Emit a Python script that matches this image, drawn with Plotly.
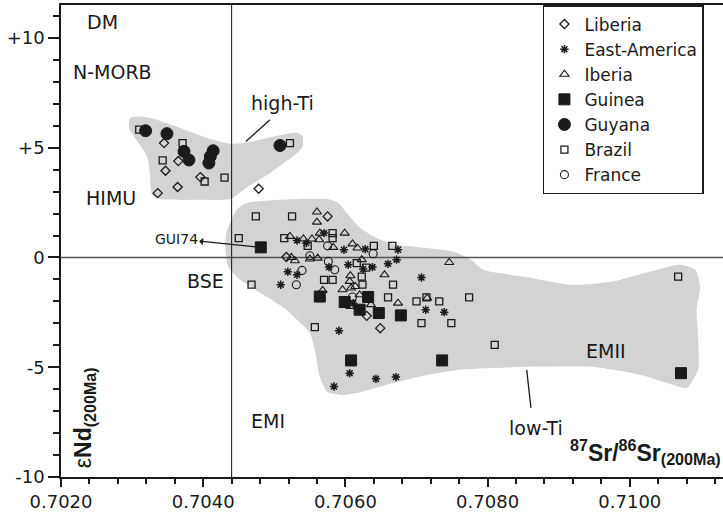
import plotly.graph_objects as go

# ---------------- data ----------------
liberia_x = [0.70345, 0.70365, 0.70347, 0.70396, 0.70364, 0.70336, 0.70478,
             0.70575, 0.70517, 0.70630, 0.70649]
liberia_y = [5.21, 4.39, 3.95, 3.66, 3.21, 2.93, 3.13,
             1.87, 0.02, -2.66, -3.22]

eastam_x = [0.70532, 0.70545, 0.70570, 0.70598, 0.70628, 0.70674, 0.70672, 0.70660,
            0.70638, 0.70604, 0.70577, 0.70625, 0.70519, 0.70532, 0.70509, 0.70707,
            0.70713, 0.70739, 0.70591, 0.70606, 0.70643, 0.70671, 0.70584, 0.70611]
eastam_y = [0.77, 0.66, 1.11, 0.35, 0.38, 0.35, -0.10, -0.29,
            -0.44, -0.33, -0.44, -0.53, -0.65, -0.79, -1.24, -0.91,
            -2.38, -2.49, -3.34, -5.27, -5.53, -5.45, -5.88, -2.08]

iberia_x = [0.70560, 0.70560, 0.70599, 0.70522, 0.70541, 0.70553, 0.70564, 0.70563,
            0.70583, 0.70610, 0.70617, 0.70524, 0.70529, 0.70550, 0.70561, 0.70623,
            0.70607, 0.70655, 0.70606, 0.70596, 0.70608, 0.70614, 0.70568, 0.70620,
            0.70636, 0.70607, 0.70674, 0.70715, 0.70746]
iberia_y = [2.07, 1.61, 1.11, 0.96, 0.84, 0.84, 1.11, 0.81,
            0.46, 0.62, 0.43, 0.00, -0.15, -0.07, -0.03, -0.10,
            -0.83, -0.79, -1.09, -1.47, -1.39, -1.32, -1.50, -1.70,
            -2.15, -2.23, -2.08, -1.85, -0.23]

guinea_x = [0.70481, 0.70564, 0.70599, 0.70632, 0.70620, 0.70647, 0.70678,
            0.70608, 0.70736, 0.71072]
guinea_y = [0.46, -1.78, -2.03, -1.80, -2.38, -2.53, -2.64,
            -4.69, -4.69, -5.27]

guyana_x = [0.70319, 0.70349, 0.70373, 0.70380, 0.70414, 0.70410, 0.70408, 0.70508]
guyana_y = [5.77, 5.64, 4.83, 4.44, 4.86, 4.60, 4.30, 5.10]

brazil_x = [0.70310, 0.70371, 0.70343, 0.70402, 0.70430, 0.70522,
            0.70474, 0.70525, 0.70450, 0.70514, 0.70547, 0.70582, 0.70582, 0.70640,
            0.70666, 0.70616, 0.70629, 0.70570, 0.70582, 0.70623, 0.70624, 0.70667,
            0.70468, 0.70660, 0.70700, 0.70714, 0.70732, 0.70707, 0.70749, 0.70557,
            0.70774, 0.70810, 0.71068]
brazil_y = [5.82, 5.21, 4.42, 3.46, 3.64, 5.21,
            1.87, 1.87, 0.88, 0.88, 0.53, 1.11, 0.88, 0.53,
            0.53, -0.26, -0.46, -1.02, -1.02, -0.87, -1.24, -1.24,
            -1.24, -1.82, -2.00, -1.82, -2.00, -2.99, -2.99, -3.17,
            -1.82, -3.98, -0.87]

france_x = [0.70575, 0.70550, 0.70576, 0.70585, 0.70539, 0.70531, 0.70639, 0.70610]
france_y = [0.53, 0.08, -0.18, -0.56, -0.59, -1.24, 0.17, -1.80]

# outlines of the shaded fields
highti_x = [0.70297, 0.70311, 0.70325, 0.70367, 0.70405, 0.70438, 0.70461, 0.70498,
            0.70532, 0.70540, 0.70540, 0.70532, 0.70494, 0.70461, 0.70438, 0.70396,
            0.70339, 0.70328, 0.70325, 0.70321, 0.70306, 0.70296]
highti_y = [6.35, 6.42, 6.36, 5.91, 5.45, 5.18, 5.24, 5.50,
            5.69, 5.51, 5.06, 4.76, 3.85, 3.18, 2.66, 2.63,
            2.66, 2.86, 3.85, 4.60, 5.36, 5.90]

lowti_x = [0.70431, 0.70433, 0.70447, 0.70461, 0.70494, 0.70541, 0.70574, 0.70590,
           0.70602, 0.70621, 0.70644, 0.70672, 0.70714, 0.70751, 0.70775, 0.70794,
           0.70850, 0.70916, 0.70977, 0.71029, 0.71071, 0.71092, 0.71099, 0.71094,
           0.71096, 0.71096, 0.71080, 0.71061, 0.71014, 0.70944, 0.70874, 0.70803,
           0.70761, 0.70705, 0.70667, 0.70625, 0.70597, 0.70574, 0.70564, 0.70557,
           0.70550, 0.70532, 0.70517, 0.70489, 0.70452, 0.70435]
lowti_y = [0.50, 1.18, 2.17, 2.48, 2.60, 2.66, 2.66, 2.49,
           2.02, 1.34, 0.88, 0.58, 0.43, 0.27, -0.07, -0.56,
           -0.87, -1.24, -1.09, -0.64, -0.33, -0.56, -1.32, -2.38,
           -3.60, -5.12, -5.95, -5.80, -5.34, -4.97, -4.97, -5.04,
           -5.12, -5.42, -5.72, -6.10, -6.26, -6.10, -5.42, -4.21,
           -3.44, -2.84, -2.38, -1.78, -1.02, -0.41]

# reference values (bulk silicate earth)
bse_sr = 0.7044
bse_nd = 0.0

# field labels
field_labels = ["DM", "N-MORB", "HIMU", "BSE", "EMI", "EMII", "high-Ti", "low-Ti"]
field_x = [0.70259, 0.70272, 0.70270, 0.70403, 0.70491, 0.70967, 0.70512, 0.70868]
field_y = [10.74, 8.47, 2.71, -1.06, -7.45, -4.28, 7.05, -7.75]

# pointer lines for high-Ti / low-Ti
highti_ptr_x = [0.70494, 0.70460]
highti_ptr_y = [6.27, 5.28]
lowti_ptr_x = [0.70855, 0.70861]
lowti_ptr_y = [-5.12, -6.85]

# GUI74 sample callout
gui74_x, gui74_y = 0.70481, 0.46
gui74_label_x, gui74_label_y = 0.70362, 0.85

x_range = [0.7020, 0.711311]
y_range = [-10, 11.5]
y_tickvals = [-10, -5, 0, 5, 10]
y_ticktext = ["-10", "-5", "0", "+5", "+10"]

FONT = "DejaVu Sans, Liberation Sans, Arial, sans-serif"
TFONT = "Liberation Sans, Arial, Helvetica, sans-serif"
INK = "#1a1a1a"

fig = go.Figure()

# shaded fields
for fx, fy in [(highti_x, highti_y), (lowti_x, lowti_y)]:
    fig.add_trace(go.Scatter(x=fx + fx[:1], y=fy + fy[:1], mode="lines", fill="toself",
                             fillcolor="#d3d3d3",
                             line=dict(color="#d3d3d3", width=0, shape="spline", smoothing=0.6),
                             hoverinfo="skip", showlegend=False))

# reference lines
fig.add_trace(go.Scatter(x=[bse_sr, bse_sr], y=y_range, mode="lines",
                         line=dict(color="#111111", width=1), showlegend=False, hoverinfo="skip"))
fig.add_trace(go.Scatter(x=x_range, y=[bse_nd, bse_nd], mode="lines",
                         line=dict(color="#555555", width=1.5), showlegend=False, hoverinfo="skip"))

# pointer lines
for px, py in [(highti_ptr_x, highti_ptr_y), (lowti_ptr_x, lowti_ptr_y)]:
    fig.add_trace(go.Scatter(x=px, y=py, mode="lines", line=dict(color=INK, width=1.3),
                             showlegend=False, hoverinfo="skip"))

series = [
    ("Liberia", liberia_x, liberia_y, "diamond-open", 7, 1.3),
    ("East-America", eastam_x, eastam_y, "asterisk-open", 7, 1.5),
    ("Iberia", iberia_x, iberia_y, "triangle-up-open", 8, 1.1),
    ("Guinea", guinea_x, guinea_y, "square", 11, 1),
    ("Guyana", guyana_x, guyana_y, "circle", 12, 1),
    ("Brazil", brazil_x, brazil_y, "square-open", 7, 1.3),
    ("France", france_x, france_y, "circle-open", 8, 1.1),
]
for name, sx, sy, sym, size, lw in series:
    fig.add_trace(go.Scatter(
        x=sx, y=sy, mode="markers", name=name,
        marker=dict(symbol=sym, size=size, color=INK, line=dict(color=INK, width=lw)),
    ))

annotations = []
for t, ax_, ay_ in zip(field_labels, field_x, field_y):
    annotations.append(dict(x=ax_, y=ay_, xref="x", yref="y", text=t, showarrow=False,
                            font=dict(family=FONT, size=19, color=INK)))

annotations.append(dict(x=gui74_x, y=gui74_y, xref="x", yref="y",
                        ax=gui74_label_x, ay=gui74_label_y, axref="x", ayref="y",
                        text="GUI74", showarrow=True, arrowside="start", arrowhead=2,
                        arrowsize=1, arrowwidth=1.3, arrowcolor=INK, standoff=5,
                        font=dict(family=FONT, size=14, color=INK)))

# axis titles drawn inside the plot area
annotations.append(dict(x=1, y=-8.85, xref="paper", yref="y", xanchor="right",
                        text="<b><sup>87</sup>Sr/<sup>86</sup>Sr<sub>(200Ma)</sub></b>",
                        showarrow=False, font=dict(family=TFONT, size=23, color=INK)))
annotations.append(dict(x=0.70233, y=-7.3, xref="x", yref="y", textangle=-90,
                        text="ε<b>Nd<sub>(200Ma)</sub></b>",
                        showarrow=False, font=dict(family=TFONT, size=23, color=INK)))

fig.update_layout(
    width=723, height=514,
    margin=dict(l=61, r=0, t=5, b=37),
    paper_bgcolor="white", plot_bgcolor="white",
    font=dict(family=FONT, size=18, color=INK),
    showlegend=True,
    legend=dict(x=0.728, y=1, xanchor="left", yanchor="top",
                bgcolor="white", bordercolor=INK, borderwidth=1.5,
                font=dict(family=FONT, size=17, color=INK),
                itemwidth=30, tracegroupgap=0),
    annotations=annotations,
)
fig.update_xaxes(range=x_range, showgrid=False, zeroline=False,
                 showline=True, linecolor=INK, linewidth=1.5, mirror=True,
                 ticks="outside", ticklen=8, tickwidth=1.5, tickcolor=INK,
                 tick0=0.702, dtick=0.002, tickformat=".4f",
                 minor=dict(dtick=0.0004, tick0=0.702, ticks="outside", ticklen=5,
                            tickwidth=1.5, tickcolor=INK, showgrid=False),
                 tickfont=dict(family=FONT, size=18, color=INK))
fig.update_yaxes(range=y_range, showgrid=False, zeroline=False,
                 showline=True, linecolor=INK, linewidth=1.5, mirror=False,
                 ticks="outside", ticklen=11, tickwidth=1.5, tickcolor=INK,
                 tickvals=y_tickvals, ticktext=y_ticktext,
                 minor=dict(dtick=1, tick0=0, ticks="outside", ticklen=6,
                            tickwidth=1.5, tickcolor=INK, showgrid=False),
                 tickfont=dict(family=FONT, size=18, color=INK))

fig.write_html("out.html")
